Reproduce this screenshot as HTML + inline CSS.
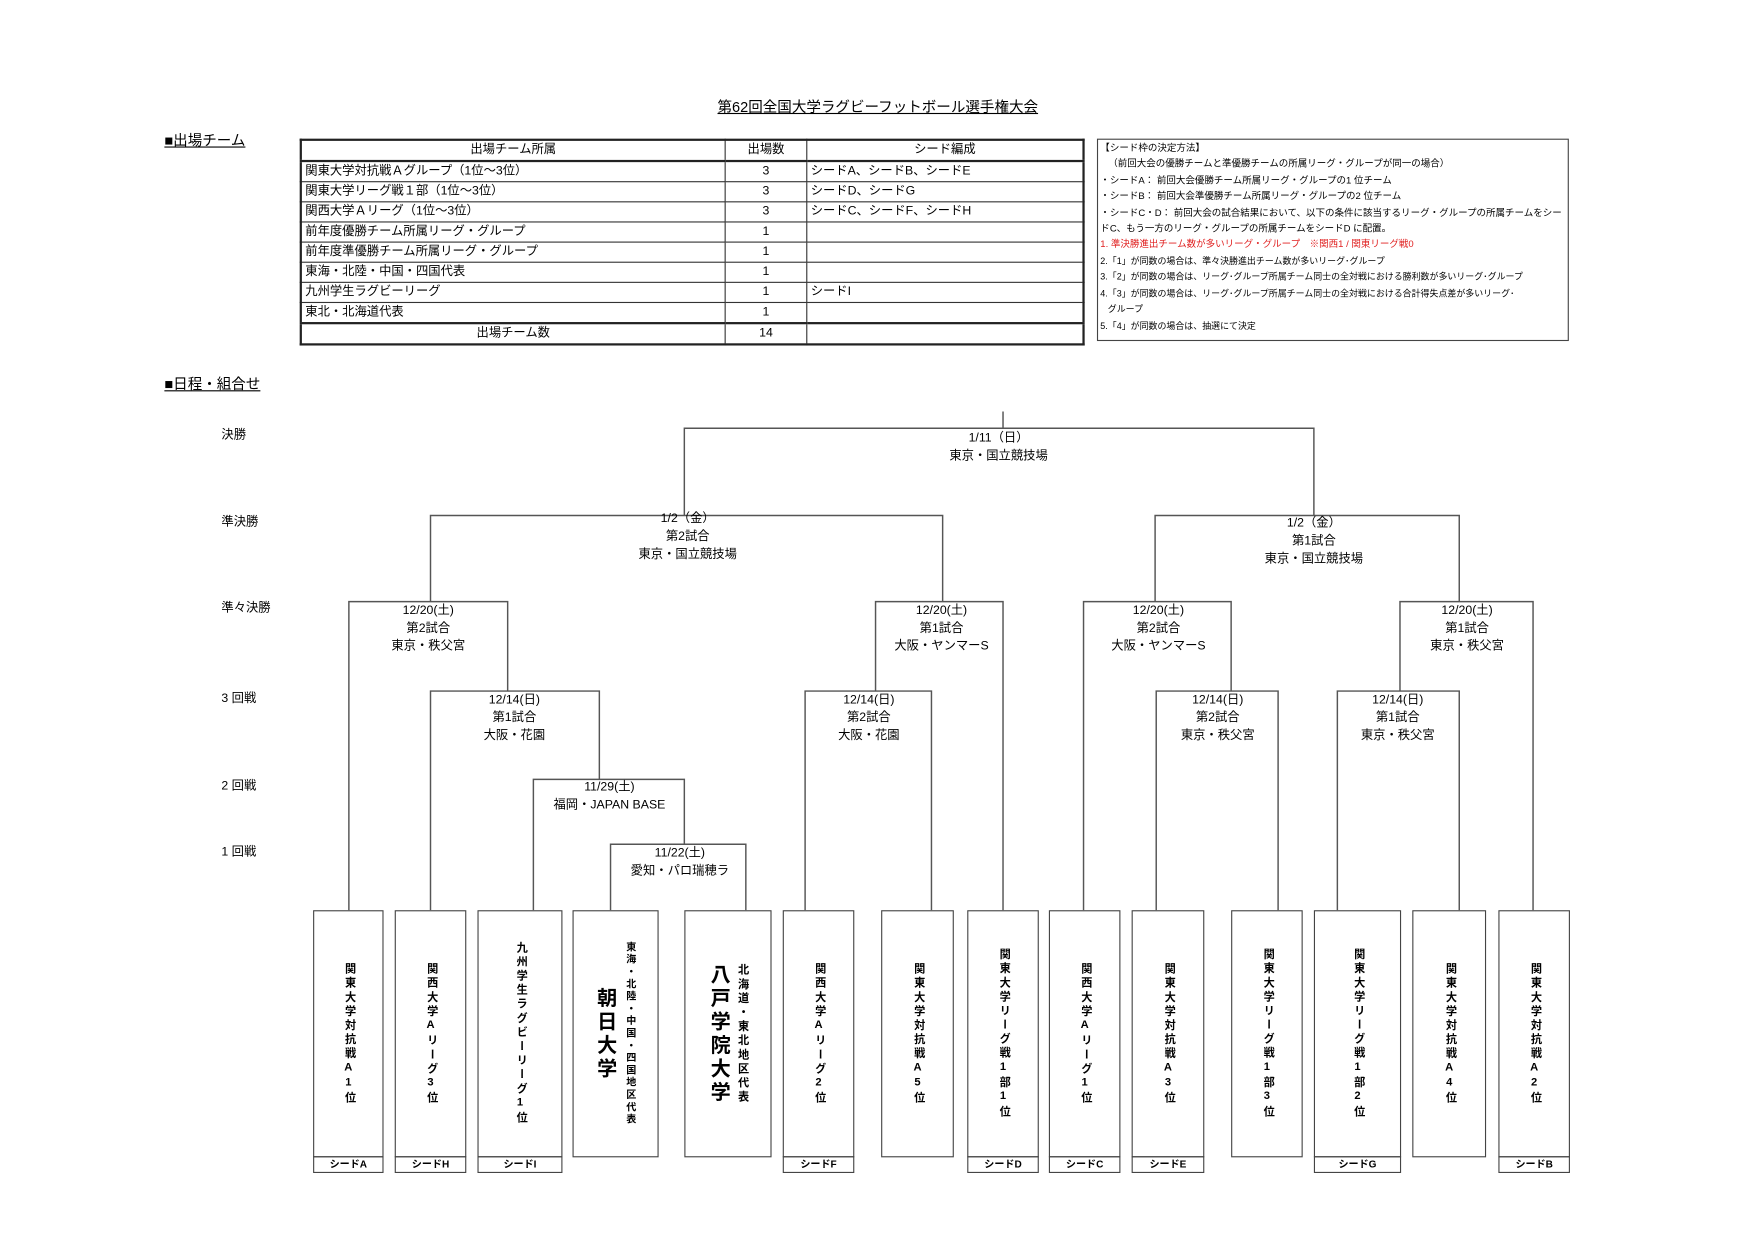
<!DOCTYPE html>
<html><head><meta charset="utf-8">
<style>
html,body{margin:0;padding:0;background:#fff;width:1754px;height:1240px;overflow:hidden}
#w{position:absolute;left:0;top:0;width:1560px;height:1103px;transform:scale(1.1182);transform-origin:0 0;font-family:"Liberation Sans","Noto Sans CJK JP",sans-serif;color:#000}
.t{position:absolute;white-space:nowrap;font-size:11px;line-height:16px}
.c{text-align:center;transform:translateX(-50%)}
table{position:absolute;border-collapse:collapse;font-size:11px}
td{border:1px solid #333;height:17px;padding:0 3px;line-height:17px}
.box{position:absolute;top:814px;border:1px solid #444;box-sizing:border-box;display:flex;justify-content:center;align-items:center;background:#fff}
.v{writing-mode:vertical-rl;text-orientation:upright;font-weight:bold;font-size:10px;letter-spacing:2.6px;line-height:11px}
.seed{position:absolute;top:1034px;height:15px;border:1px solid #444;box-sizing:border-box;font-size:9px;font-weight:bold;text-align:center;line-height:13px}
</style></head><body><div id="w">
<div class="t c" style="left:785px;top:88px;font-size:13px;text-decoration:underline">第62回全国大学ラグビーフットボール選手権大会</div>
<div class="t" style="left:147px;top:118px;font-size:13px;text-decoration:underline">■出場チーム</div>
<div class="t" style="left:147px;top:336px;font-size:13px;text-decoration:underline">■日程・組合せ</div>

<table style="left:268px;top:124px;width:702px;border:2px solid #222">
<tr><td style="width:372px;text-align:center;border-bottom:2px solid #222">出場チーム所属</td><td style="width:66px;text-align:center;border-bottom:2px solid #222">出場数</td><td style="text-align:center;border-bottom:2px solid #222">シード編成</td></tr>
<tr><td>関東大学対抗戦Ａグループ（1位～3位）</td><td style="text-align:center">3</td><td>シードA、シードB、シードE</td></tr>
<tr><td>関東大学リーグ戦１部（1位～3位）</td><td style="text-align:center">3</td><td>シードD、シードG</td></tr>
<tr><td>関西大学Ａリーグ（1位～3位）</td><td style="text-align:center">3</td><td>シードC、シードF、シードH</td></tr>
<tr><td>前年度優勝チーム所属リーグ・グループ</td><td style="text-align:center">1</td><td></td></tr>
<tr><td>前年度準優勝チーム所属リーグ・グループ</td><td style="text-align:center">1</td><td></td></tr>
<tr><td>東海・北陸・中国・四国代表</td><td style="text-align:center">1</td><td></td></tr>
<tr><td>九州学生ラグビーリーグ</td><td style="text-align:center">1</td><td>シードI</td></tr>
<tr><td>東北・北海道代表</td><td style="text-align:center">1</td><td></td></tr>
<tr><td style="text-align:center;border-top:2px solid #222">出場チーム数</td><td style="text-align:center;border-top:2px solid #222">14</td><td style="border-top:2px solid #222"></td></tr>
</table>

<div style="position:absolute;left:981px;top:124px;width:422px;height:181px;border:1px solid #444;box-sizing:border-box;font-size:8.5px;line-height:14.4px;padding:0 0 0 2px;white-space:nowrap">
【シード枠の決定方法】<br>
&nbsp;&nbsp;&nbsp;（前回大会の優勝チームと準優勝チームの所属リーグ・グループが同一の場合）<br>
・シードA： 前回大会優勝チーム所属リーグ・グループの1 位チーム<br>
・シードB： 前回大会準優勝チーム所属リーグ・グループの2 位チーム<br>
・シードC・D： 前回大会の試合結果において、以下の条件に該当するリーグ・グループの所属チームをシー<br>
ドC、もう一方のリーグ・グループの所属チームをシードD に配置。<br>
<span style="color:#e02020">1. 準決勝進出チーム数が多いリーグ・グループ　※関西1 / 関東リーグ戦0</span><br>
<span style="font-size:8px;line-height:12.5px">2.「1」が同数の場合は、準々決勝進出チーム数が多いリーグ･グループ<br>
3.「2」が同数の場合は、リーグ･グループ所属チーム同士の全対戦における勝利数が多いリーグ･グループ<br>
4.「3」が同数の場合は、リーグ･グループ所属チーム同士の全対戦における合計得失点差が多いリーグ･<br>
&nbsp;&nbsp;&nbsp;グループ<br>
5.「4」が同数の場合は、抽選にて決定</span>
</div>

<div class="t" style="left:198px;top:381px">決勝</div>
<div class="t" style="left:198px;top:459px">準決勝</div>
<div class="t" style="left:198px;top:536px">準々決勝</div>
<div class="t" style="left:198px;top:617px">3 回戦</div>
<div class="t" style="left:198px;top:695px">2 回戦</div>
<div class="t" style="left:198px;top:754px">1 回戦</div>

<svg style="position:absolute;left:0;top:0" width="1560" height="1103">
<g stroke="#555" stroke-width="1.3" fill="none">
<path d="M897 368V383M612 461V383H1175V461"/>
<path d="M385 538V461H843V538"/>
<path d="M1033 538V461H1305V538"/>
<path d="M312 814V538H454V618"/>
<path d="M783 618V538H897V814"/>
<path d="M969 814V538H1101V618"/>
<path d="M1252 618V538H1371V814"/>
<path d="M385 814V618H536V697"/>
<path d="M720 814V618H833V814"/>
<path d="M1034 814V618H1143V814"/>
<path d="M1196 814V618H1305V814"/>
<path d="M477 814V697H612V755"/>
<path d="M546 814V755H667V814"/>
</g></svg>

<div class="t c" style="left:893px;top:384px">1/11（日）<br>東京・国立競技場</div>
<div class="t c" style="left:615px;top:456px">1/2（金）<br>第2試合<br>東京・国立競技場</div>
<div class="t c" style="left:1175px;top:460px">1/2（金）<br>第1試合<br>東京・国立競技場</div>
<div class="t c" style="left:383px;top:538px">12/20(土)<br>第2試合<br>東京・秩父宮</div>
<div class="t c" style="left:842px;top:538px">12/20(土)<br>第1試合<br>大阪・ヤンマーS</div>
<div class="t c" style="left:1036px;top:538px">12/20(土)<br>第2試合<br>大阪・ヤンマーS</div>
<div class="t c" style="left:1312px;top:538px">12/20(土)<br>第1試合<br>東京・秩父宮</div>
<div class="t c" style="left:460px;top:618px">12/14(日)<br>第1試合<br>大阪・花園</div>
<div class="t c" style="left:777px;top:618px">12/14(日)<br>第2試合<br>大阪・花園</div>
<div class="t c" style="left:1089px;top:618px">12/14(日)<br>第2試合<br>東京・秩父宮</div>
<div class="t c" style="left:1250px;top:618px">12/14(日)<br>第1試合<br>東京・秩父宮</div>
<div class="t c" style="left:545px;top:696px">11/29(土)<br>福岡・JAPAN BASE</div>
<div class="t c" style="left:608px;top:755px">11/22(土)<br>愛知・パロ瑞穂ラ</div>

<div class="box" style="left:280px;width:63px;height:221px"><span class="v">関東大学対抗戦A1位</span></div><div class="seed" style="left:280px;width:63px">シードA</div>
<div class="box" style="left:353px;width:64px;height:221px"><span class="v">関西大学Aリーグ3位</span></div><div class="seed" style="left:353px;width:64px">シードH</div>
<div class="box" style="left:427px;width:76px;height:221px"><span class="v">九州学生ラグビーリーグ1位</span></div><div class="seed" style="left:427px;width:76px">シードI</div>
<div class="box" style="left:512px;width:77px;height:221px"><span class="v" style="font-size:18px;letter-spacing:3px;line-height:20px">朝日大学</span><span class="v" style="font-size:9px;letter-spacing:2px;margin-left:6px">東海・北陸・中国・四国地区代表</span></div>
<div class="box" style="left:612px;width:78px;height:221px"><span class="v" style="font-size:18px;letter-spacing:3px;line-height:20px">八戸学院大学</span><span class="v" style="margin-left:4px">北海道・東北地区代表</span></div>
<div class="box" style="left:700px;width:64px;height:221px"><span class="v">関西大学Aリーグ2位</span></div><div class="seed" style="left:700px;width:64px">シードF</div>
<div class="box" style="left:788px;width:65px;height:221px"><span class="v">関東大学対抗戦A5位</span></div>
<div class="box" style="left:865px;width:64px;height:221px"><span class="v">関東大学リーグ戦1部1位</span></div><div class="seed" style="left:865px;width:64px">シードD</div>
<div class="box" style="left:938px;width:64px;height:221px"><span class="v">関西大学Aリーグ1位</span></div><div class="seed" style="left:938px;width:64px">シードC</div>
<div class="box" style="left:1012px;width:65px;height:221px"><span class="v">関東大学対抗戦A3位</span></div><div class="seed" style="left:1012px;width:65px">シードE</div>
<div class="box" style="left:1101px;width:64px;height:221px"><span class="v">関東大学リーグ戦1部3位</span></div>
<div class="box" style="left:1175px;width:78px;height:221px"><span class="v">関東大学リーグ戦1部2位</span></div><div class="seed" style="left:1175px;width:78px">シードG</div>
<div class="box" style="left:1263px;width:66px;height:221px"><span class="v">関東大学対抗戦A4位</span></div>
<div class="box" style="left:1340px;width:64px;height:221px"><span class="v">関東大学対抗戦A2位</span></div><div class="seed" style="left:1340px;width:64px">シードB</div>
</div></body></html>
